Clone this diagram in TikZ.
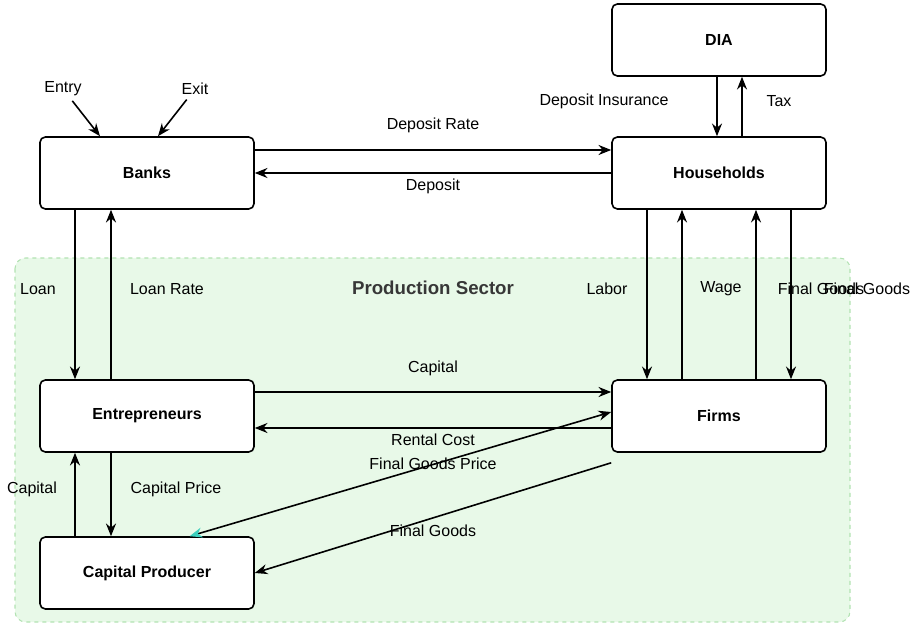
\documentclass[tikz,border=0pt]{standalone}
\usepackage{fontspec}
\setmainfont{Liberation Sans}
\usetikzlibrary{arrows.meta}

\definecolor{sectorfill}{RGB}{232,249,232}
\definecolor{sectorline}{RGB}{178,226,178}
\definecolor{sectortext}{RGB}{55,55,55}
\definecolor{tipteal}{RGB}{60,208,190}

\tikzset{
    every node/.style={font=\fontsize{12}{14}\selectfont},
    agent/.style={draw, line width=1.2pt, rounded corners=4pt, fill=white,
        minimum width=160.5pt, minimum height=54pt,
        font=\fontsize{12}{14}\selectfont\bfseries},
    flow/.style={-{Stealth[length=9.5pt,width=7.5pt]}, line width=1.2pt},
    sector/.style={draw=sectorline, dashed, fill=sectorfill, rounded corners=8pt, thick}
}

\begin{document}
\begin{tikzpicture}[x=0.75pt, y=-0.75pt]
    \useasboundingbox (0,0) rectangle (914,627);
    \draw[sector] (15,258) rectangle (850,622);
    \node[font=\fontsize{14}{16}\selectfont\bfseries, text=sectortext] (sector) at (433,288) {Production Sector};

    \node[agent] (dia) at (719,40) {DIA};
    \node[agent] (hh) at (719,173) {Households};
    \node[agent] (banks) at (147,173) {Banks};
    \node[agent] (entre) at (147,416) {Entrepreneurs};
    \node[agent] (firms) at (719,416) {Firms};
    \node[agent] (capprod) at (147,573) {Capital Producer};

    \node (entry) at (63,89) {Entry};
    \node (exit) at (195,89) {Exit};
    \node (depinsur) at (604,101) {Deposit Insurance};
    \node (tax) at (779,101) {Tax};
    \node (deprate) at (433,125) {Deposit Rate};
    \node (deposit) at (433,186) {Deposit};
    \node (loan) at (38,289) {Loan};
    \node (loanrate) at (167,289) {Loan Rate};
    \node (labor) at (607,289) {Labor};
    \node (wage) at (721,289) {Wage};
    \node (fgoodsup) at (821,289) {Final Goods};
    \node (fgoodsdown) at (867,289) {Final Goods};
    \node (capital) at (433,368) {Capital};
    \node (rental) at (433,440) {Rental Cost};
    \node (fgprice) at (433,464) {Final Goods Price};
    \node (capup) at (32,489) {Capital};
    \node (capprice) at (176,489) {Capital Price};
    \node (fgoods) at (433,531) {Final Goods};

    \draw[flow] (entry) -- ([xshift=-35.25pt]banks.north);
    \draw[flow] (exit) -- ([xshift=8.25pt]banks.north);
    \draw[flow] ([yshift=17.25pt]banks.east) -- ([yshift=17.25pt]hh.west);
    \draw[flow] (hh.west) -- (banks.east);
    \draw[flow] ([xshift=-1.5pt]dia.south) -- ([xshift=-1.5pt]hh.north);
    \draw[flow] ([xshift=17.25pt]hh.north) -- ([xshift=17.25pt]dia.south);
    \draw[flow] ([xshift=-54pt]banks.south) -- ([xshift=-54pt]entre.north);
    \draw[flow] ([xshift=-27pt]entre.north) -- ([xshift=-27pt]banks.south);
    \draw[flow] ([xshift=-54pt]hh.south) -- ([xshift=-54pt]firms.north);
    \draw[flow] ([xshift=-27.75pt]firms.north) -- ([xshift=-27.75pt]hh.south);
    \draw[flow] ([xshift=27.75pt]firms.north) -- ([xshift=27.75pt]hh.south);
    \draw[flow] ([xshift=54pt]hh.south) -- ([xshift=54pt]firms.north);
    \draw[flow] ([yshift=18pt]entre.east) -- ([yshift=18pt]firms.west);
    \draw[flow] ([yshift=-9pt]firms.west) -- ([yshift=-9pt]entre.east);
    \draw[flow] ([xshift=-27pt]entre.south) -- ([xshift=-27pt]capprod.north);
    \draw[flow] ([xshift=-54pt]capprod.north) -- ([xshift=-54pt]entre.south);
    \draw[{Stealth[length=9.5pt,width=7.5pt,color=tipteal]}-{Stealth[length=9.5pt,width=7.5pt]}, line width=1.2pt]
        ([xshift=32pt]capprod.north) -- ([yshift=3pt]firms.west);
    \draw[flow] ([yshift=-7.5pt]firms.south west) -- (capprod.east);
\end{tikzpicture}
\end{document}
